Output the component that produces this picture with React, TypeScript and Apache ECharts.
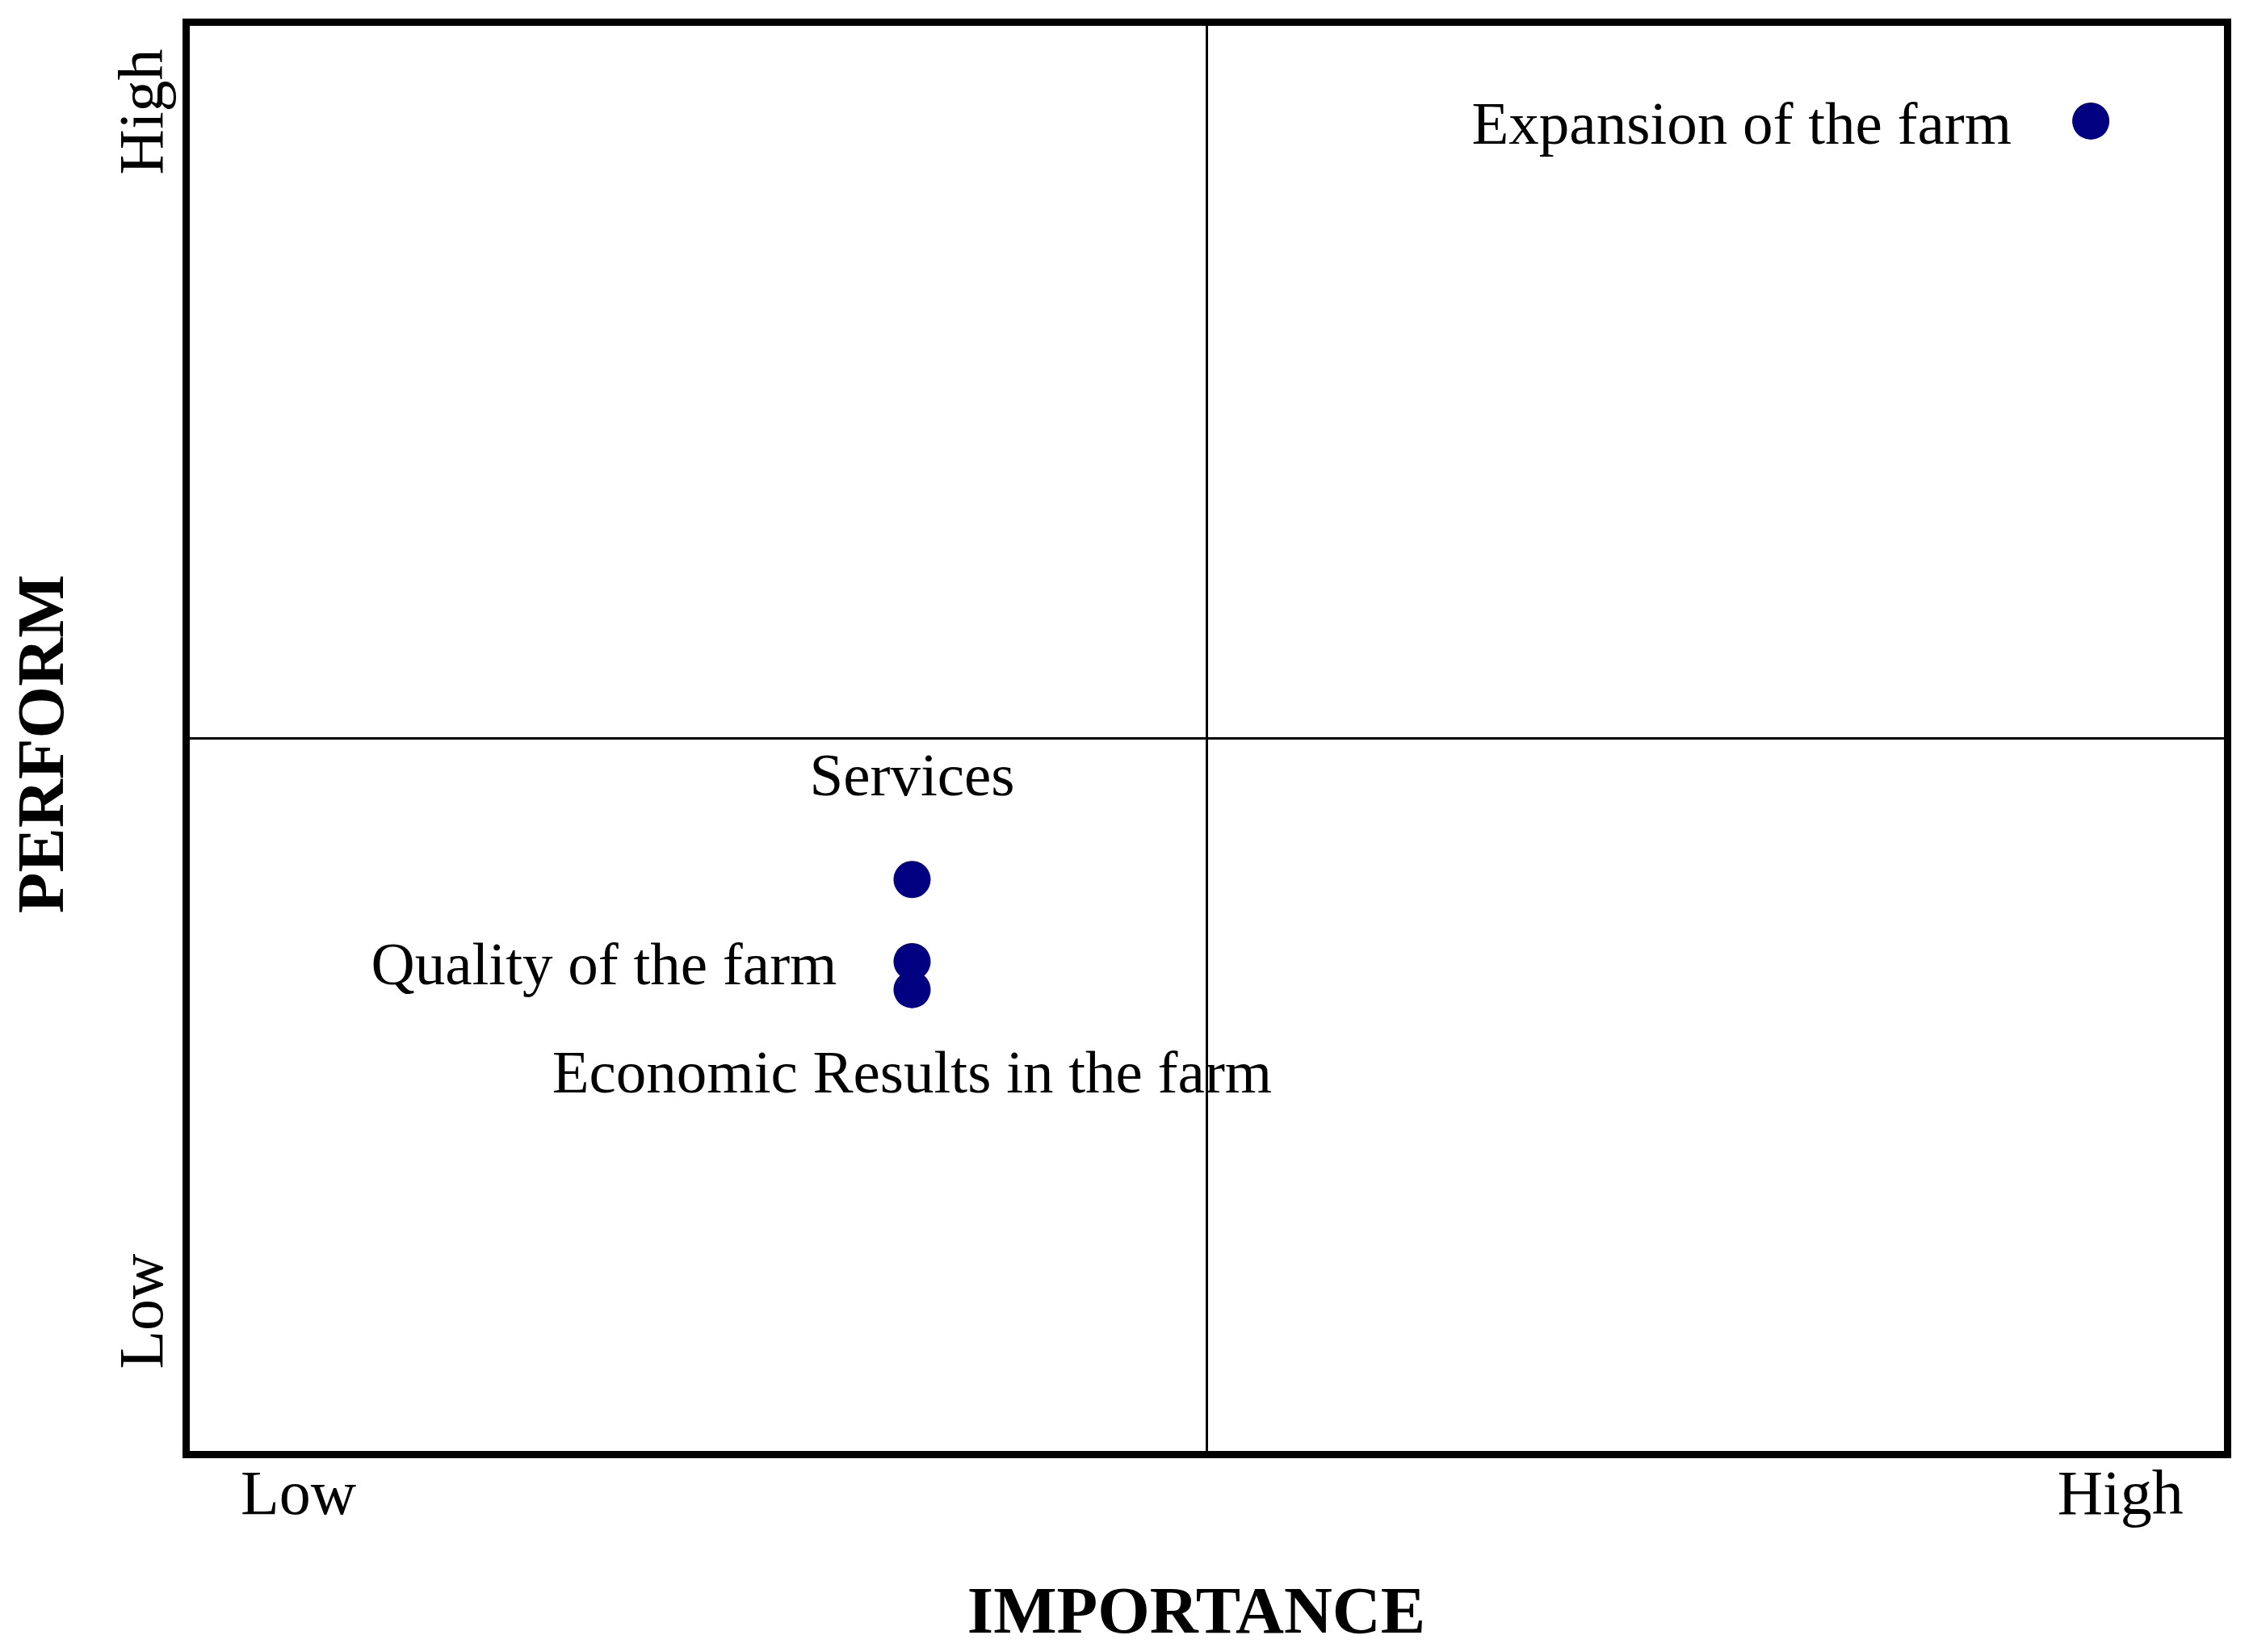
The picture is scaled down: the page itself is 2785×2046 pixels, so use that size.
import React, { useEffect, useRef } from "react";
import * as echarts from "echarts";

// ---- data ----
const names = [
  "Expansion of the farm",
  "Services",
  "Quality of the farm",
  "Economic Results in the farm",
];
const importance = [93.3, 35.56, 35.56, 35.56];
const performance = [93.1, 40.15, 34.42, 32.46];
const xTickLabels = ["Low", "High"];
const xTickValues = [5.5, 94.75];
const yTickLabels = ["Low", "High"];
const yTickValues = [10, 93.75];
const axisTitles = ["IMPORTANCE", "PERFORM"];
const midpoints = [50, 50];

// ---- styles ----
const FONT = "Liberation Serif";
const labelPlacement: { position: string; distance: number; offset: number[] }[] = [
  { position: "left", distance: 75, offset: [0, 3] },
  { position: "top", distance: 69, offset: [0, 0] },
  { position: "left", distance: 70, offset: [0, 3] },
  { position: "bottom", distance: 41, offset: [0, 0] },
];

const tickFormatter = (values: number[], labels: string[]) => (v: number) => {
  const i = values.findIndex((t) => Math.abs(t - v) < 1e-6);
  return i >= 0 ? labels[i] : "";
};

export default function App() {
  const ref = useRef<HTMLDivElement>(null);

  useEffect(() => {
    if (!ref.current) return;
    const chart = echarts.init(ref.current, undefined, { renderer: "svg" });

    const seriesData = names.map((n, i) => ({
      name: n,
      value: [importance[i], performance[i]],
      label: {
        show: true,
        formatter: n,
        position: labelPlacement[i].position,
        distance: labelPlacement[i].distance,
        offset: labelPlacement[i].offset,
        fontFamily: FONT,
        fontSize: 75,
        lineHeight: 75,
        color: "#000",
        opacity: 1,
      },
    }));

    chart.setOption({
      animation: false,
      backgroundColor: "#fff",
      grid: {
        left: 230.5,
        top: 27.5,
        width: 2528,
        height: 1774,
        show: true,
        borderWidth: 9,
        borderColor: "#000",
        backgroundColor: "transparent",
        containLabel: false,
        outerBoundsMode: "none",
      },
      xAxis: {
        type: "value",
        min: 0,
        max: 100,
        interval: 0.25,
        axisLine: { show: false },
        axisTick: { show: false },
        splitLine: { show: false },
        axisLabel: {
          formatter: tickFormatter(xTickValues, xTickLabels),
          fontFamily: FONT,
          fontSize: 78,
          lineHeight: 78,
          color: "#000",
          margin: 8,
        },
        name: axisTitles[0],
        nameLocation: "middle",
        nameGap: 151,
        nameMoveOverlap: false,
        nameTextStyle: {
          fontFamily: FONT,
          fontSize: 83,
          lineHeight: 83,
          fontWeight: "bold",
          color: "#000",
          padding: [0, 26, 0, 0],
        },
      },
      yAxis: {
        type: "value",
        min: 0,
        max: 100,
        interval: 0.25,
        axisLine: { show: false },
        axisTick: { show: false },
        splitLine: { show: false },
        axisLabel: {
          formatter: tickFormatter(yTickValues, yTickLabels),
          fontFamily: FONT,
          fontSize: 78,
          lineHeight: 78,
          color: "#000",
          rotate: 90,
          margin: 17,
        },
        name: axisTitles[1],
        nameLocation: "middle",
        nameGap: 139,
        nameMoveOverlap: false,
        nameTextStyle: {
          fontFamily: FONT,
          fontSize: 83,
          lineHeight: 83,
          fontWeight: "bold",
          color: "#000",
          padding: [0, 14, 0, 0],
        },
      },
      series: [
        {
          type: "scatter",
          symbol: "circle",
          symbolSize: 46,
          itemStyle: { color: "#000080", opacity: 1 },
          data: seriesData,
          markLine: {
            silent: true,
            symbol: ["none", "none"],
            label: { show: false },
            lineStyle: { color: "#000", width: 3, type: "solid", opacity: 1 },
            data: [{ xAxis: midpoints[0] }, { yAxis: midpoints[1] }],
          },
        },
      ],
    });

    return () => chart.dispose();
  }, []);

  return (
    <div
      ref={ref}
      style={{ position: "absolute", left: 0, top: 0, width: 2785, height: 2046, background: "#fff" }}
    />
  );
}
